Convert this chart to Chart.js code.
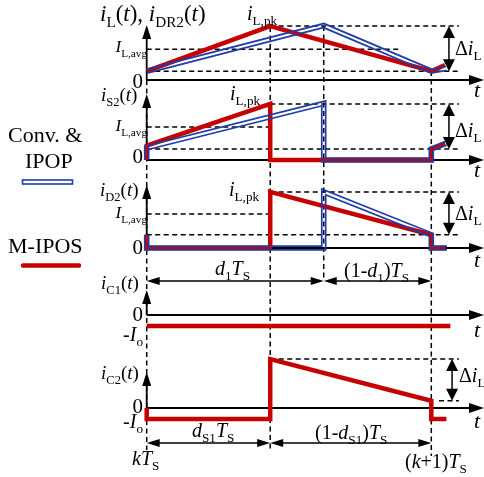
<!DOCTYPE html>
<html>
<head>
<meta charset="utf-8">
<script src="https://cdn.jsdelivr.net/npm/chart.js@4.4.1/dist/chart.umd.min.js"></script>
<style>
  html, body { margin: 0; padding: 0; background: #fff; }
  canvas { display: block; }
</style>
</head>
<body>
<canvas id="wave" width="484" height="477"></canvas>
<script>
// ---------------------------------------------------------------------------
// Data: time in units of Ts (0 = kTs, 1 = (k+1)Ts), currents normalised to i_L,pk
// ---------------------------------------------------------------------------
const D1 = 0.622;   // d1   (conv. & IPOP switching instant)
const DS1 = 0.434;  // dS1  (M-IPOS switching instant)

// panel 1: i_L(t), i_DR2(t)
const iL_mipos = [[0, 0.16], [DS1, 0.98], [1, 0.16], [1.048, 0.27]];
const iL_conv  = [[0, 0.16], [D1, 0.99], [1, 0.16], [1.052, 0.21]];
// panel 2: i_S2(t)
const iS2_mipos = [[0, 0], [0, 0.26], [DS1, 1.02], [DS1, 0], [1, 0], [1, 0.2], [1.048, 0.31]];
const iS2_conv  = [[0, 0], [0, 0.22], [D1, 1.03], [D1, 0], [1, 0], [1, 0.2], [1.052, 0.3]];
// panel 3: i_D2(t)
const iD2_mipos = [[0, 0.24], [0, 0], [DS1, 0], [DS1, 1.02], [1, 0.24], [1, 0], [1.05, 0]];
const iD2_conv  = [[0, 0.24], [0, 0], [D1, 0], [D1, 1.02], [1, 0.24], [1, 0], [1.055, 0]];
// panel 4: i_C1(t)
const iC1_mipos = [[0, -0.2], [1.067, -0.2]];
// panel 5: i_C2(t)
const iC2_mipos = [[0, 0], [0, -0.2], [DS1, -0.2], [DS1, 0.89], [1, 0.13], [1, -0.2], [1.053, -0.2]];

// reference levels per panel
const PK     = [0.98, 1.02, 1.02, null, 0.89];
const AVG    = [0.56, 0.6, 0.62, null, null];
const VALLEY = [0.16, 0.2, 0.24, null, 0.13];

// ---------------------------------------------------------------------------
// Layout (pixels)
// ---------------------------------------------------------------------------
const W = 484, H = 477;
const X0 = 146.7, TS = 284.6;            // px of kTs, px per Ts
const PXU = 55;                          // px per unit of current
const ZERO = [80, 160, 248, 315, 408];   // zero line of each panel
const AXIS_TIP = [25, 94, 185, 290, 372];
const GUIDE_END = 1.097;

const RED = "#c40000", BLUE = "#1f3da8";
const SERIF = '"Liberation Serif", "Times New Roman", serif';

const xPx = px => (px - X0) / TS;
const yPx = px => (H - px) / PXU;
const inPanel = (p, pts) => pts.map(([t, v]) => ({ x: t, y: (H - ZERO[p]) / PXU + v }));

// ---------------------------------------------------------------------------
// Datasets
// ---------------------------------------------------------------------------
const ds = (data, color, width, order, extra = {}) => ({
  data, borderColor: color, borderWidth: width, order,
  showLine: true, pointRadius: 0, fill: false, tension: 0, ...extra,
});
const dashed = data => ds(data, "#000", 1.5, 50, { borderDash: [5, 3.5] });
const solid  = data => ds(data, "#000", 1.8, 40);

const datasets = [];

// horizontal guides
PK.forEach((v, p) => { if (v != null) datasets.push(dashed(inPanel(p, [[DS1, v], [GUIDE_END, v]]))); });
AVG.forEach((v, p) => {
  if (v != null) datasets.push(dashed(inPanel(p, [[0, v], [p === 0 ? xPx(399) : DS1, v]])));
});
VALLEY.forEach((v, p) => {
  if (v != null) datasets.push(dashed(inPanel(p, [[p === 4 ? xPx(439) : 0, v], [GUIDE_END, v]])));
});

// vertical guides
[[0, 80, 450], [DS1, 27, 452], [D1, 26, 278], [1, 71, 456]].forEach(([t, a, b]) =>
  datasets.push(dashed([{ x: t, y: yPx(a) }, { x: t, y: yPx(b) }])));

// axes
ZERO.forEach((z, p) => {
  datasets.push(solid([{ x: 0, y: yPx(z) }, { x: xPx(472), y: yPx(z) }]));
  datasets.push(solid([{ x: 0, y: yPx(z) }, { x: 0, y: yPx(AXIS_TIP[p] + 8) }]));
});

// waveforms
[iL_mipos, iS2_mipos, iD2_mipos, iC1_mipos, iC2_mipos].forEach((pts, p) =>
  datasets.push(ds(inPanel(p, pts), RED, 4.5, 30)));
[iL_conv, iS2_conv, iD2_conv].forEach((pts, p) => {
  datasets.push(ds(inPanel(p, pts), BLUE, 5.6, 20, { role: "outer" }));
  datasets.push(ds(inPanel(p, pts), "#fff", 2.2, 10, { role: "inner" }));
});

// ---------------------------------------------------------------------------
// Drawing helpers
// ---------------------------------------------------------------------------
function rich(ctx, x, y, parts, size, align = "left") {
  const segs = parts.map(([t, s]) => {
    const sub = s.includes("s");
    const font = `${s.includes("i") ? "italic " : ""}${sub ? size * 0.66 : size}px ${SERIF}`;
    ctx.font = font;
    return { t, font, w: ctx.measureText(t).width, dy: sub ? size * 0.27 : 0 };
  });
  const total = segs.reduce((a, s) => a + s.w, 0);
  let cx = align === "right" ? x - total : align === "center" ? x - total / 2 : x;
  segs.forEach(s => { ctx.font = s.font; ctx.fillText(s.t, cx, y + s.dy); cx += s.w; });
}

function head(ctx, x, y, dir, len, hw) {
  const d = { up: [0, 1], down: [0, -1], left: [1, 0], right: [-1, 0] }[dir];
  ctx.beginPath();
  ctx.moveTo(x, y);
  ctx.lineTo(x + d[0] * len - d[1] * hw, y + d[1] * len - d[0] * hw);
  ctx.lineTo(x + d[0] * len + d[1] * hw, y + d[1] * len + d[0] * hw);
  ctx.closePath();
  ctx.fill();
}

let snap = null;

const annotate = {
  id: "annotate",
  beforeDraw(chart) {
    const c = chart.ctx;
    c.save(); c.fillStyle = "#fff"; c.fillRect(0, 0, chart.width, chart.height); c.restore();
    snap = null;
  },
  beforeDatasetDraw(chart, args) {
    const d = chart.data.datasets[args.index];
    if (d.role === "outer" && !snap) {
      snap = document.createElement("canvas");
      snap.width = chart.canvas.width; snap.height = chart.canvas.height;
      snap.getContext("2d").drawImage(chart.canvas, 0, 0);
    }
    if (d.role !== "inner") return;
    // the gap of the double line shows whatever lies underneath it
    const m = document.createElement("canvas");
    m.width = chart.canvas.width; m.height = chart.canvas.height;
    const c = m.getContext("2d");
    c.lineWidth = d.borderWidth; c.lineJoin = "miter";
    c.beginPath();
    args.meta.data.forEach((p, i) => i ? c.lineTo(p.x, p.y) : c.moveTo(p.x, p.y));
    c.stroke();
    c.globalCompositeOperation = "source-in";
    c.drawImage(snap, 0, 0);
    chart.ctx.save();
    chart.ctx.setTransform(1, 0, 0, 1, 0, 0);
    chart.ctx.drawImage(m, 0, 0);
    chart.ctx.restore();
    return false;
  },
  afterDraw(chart) {
    const { ctx, scales: { x, y } } = chart;
    const px = t => x.getPixelForValue(t);
    const lvl = (p, v) => y.getPixelForValue((H - ZERO[p]) / PXU + v);
    ctx.save();
    ctx.fillStyle = "#000";
    ctx.strokeStyle = "#000";

    // axis arrow heads
    ZERO.forEach((z, p) => {
      head(ctx, W, lvl(p, 0), "right", 15, 5);
      head(ctx, px(0), AXIS_TIP[p], "up", 14, 4.5);
    });

    // time dimension arrows
    ctx.lineWidth = 1.5;
    [[0, D1, 281], [D1, 1, 281], [0, DS1, 443], [DS1, 1, 443]].forEach(([a, b, yy]) => {
      ctx.beginPath(); ctx.moveTo(px(a) + 4, yy); ctx.lineTo(px(b) - 4, yy); ctx.stroke();
      head(ctx, px(a), yy, "left", 13, 4);
      head(ctx, px(b), yy, "right", 13, 4);
    });

    // delta i_L arrows
    [[0, 1.062], [1, 1.062], [2, 1.062], [4, 1.073]].forEach(([p, t]) => {
      const top = lvl(p, PK[p]), bot = lvl(p, VALLEY[p]);
      ctx.beginPath(); ctx.moveTo(px(t), top + 4); ctx.lineTo(px(t), bot - 4); ctx.stroke();
      head(ctx, px(t), top, "up", 12, 6);
      head(ctx, px(t), bot, "down", 12, 6);
    });

    // labels
    const iavg = [["I", "i"], ["L,avg", "s"]];
    const ipk = [["i", "i"], ["L,pk", "s"]];
    const dil = [["Δ", "r"], ["i", "i"], ["L", "s"]];
    const zero = [["0", "r"]];
    const io = [["-", "r"], ["I", "i"], ["o", "s"]];
    const tt = [["t", "i"]];

    rich(ctx, 100, 21, [["i", "i"], ["L", "s"], ["(", "r"], ["t", "i"], ["), ", "r"],
      ["i", "i"], ["DR2", "s"], ["(", "r"], ["t", "i"], [")", "r"]], 23);
    rich(ctx, 101, 101, [["i", "i"], ["S2", "s"], ["(", "r"], ["t", "i"], [")", "r"]], 19);
    rich(ctx, 100, 196, [["i", "i"], ["D2", "s"], ["(", "r"], ["t", "i"], [")", "r"]], 19);
    rich(ctx, 101, 289, [["i", "i"], ["C1", "s"], ["(", "r"], ["t", "i"], [")", "r"]], 19);
    rich(ctx, 101, 379, [["i", "i"], ["C2", "s"], ["(", "r"], ["t", "i"], [")", "r"]], 19);

    rich(ctx, 247, 20, ipk, 20);
    rich(ctx, 230, 100, ipk, 20);
    rich(ctx, 229, 196, ipk, 20);

    [52, 131, 218].forEach(b => rich(ctx, 147, b, iavg, 17, "right"));
    [88, 163, 254, 321, 413].forEach(b => rich(ctx, 143, b, zero, 21, "right"));
    [341, 428].forEach(b => rich(ctx, 143, b, io, 20, "right"));
    [97, 177, 267, 337, 428].forEach(b => rich(ctx, 474, b, tt, 22));
    [[455, 55], [455, 137], [455, 220], [459, 382]].forEach(([l, b]) => rich(ctx, l, b, dil, 20));

    rich(ctx, 215, 275, [["d", "i"], ["1", "s"], ["T", "i"], ["S", "s"]], 20);
    rich(ctx, 344, 277, [["(1-", "r"], ["d", "i"], ["1", "s"], [")", "r"], ["T", "i"], ["S", "s"]], 20);
    rich(ctx, 192, 437, [["d", "i"], ["S1", "s"], ["T", "i"], ["S", "s"]], 20);
    rich(ctx, 315, 439, [["(1-", "r"], ["d", "i"], ["S1", "s"], [")", "r"], ["T", "i"], ["S", "s"]], 20);
    rich(ctx, 132, 465, [["k", "i"], ["T", "i"], ["S", "s"]], 20);
    rich(ctx, 405, 468, [["(", "r"], ["k", "i"], ["+1)", "r"], ["T", "i"], ["S", "s"]], 20);

    // legend
    rich(ctx, 8, 142, [["Conv. &", "r"]], 22);
    rich(ctx, 25, 168, [["IPOP", "r"]], 22);
    rich(ctx, 8, 253, [["M-IPOS", "r"]], 22);
    ctx.strokeStyle = BLUE; ctx.lineWidth = 1.6;
    ctx.strokeRect(22.5, 180, 50, 4);
    ctx.strokeStyle = RED; ctx.lineWidth = 4.5; ctx.lineCap = "round";
    ctx.beginPath(); ctx.moveTo(23, 265.5); ctx.lineTo(79, 265.5); ctx.stroke();
    ctx.restore();
  },
};

new Chart(document.getElementById("wave"), {
  type: "scatter",
  data: { datasets },
  options: {
    responsive: false,
    animation: false,
    events: [],
    layout: { padding: 0 },
    plugins: { legend: { display: false }, tooltip: { enabled: false } },
    scales: {
      x: { type: "linear", display: false, min: xPx(0), max: xPx(W) },
      y: { type: "linear", display: false, min: 0, max: H / PXU },
    },
  },
  plugins: [annotate],
});
</script>
</body>
</html>
